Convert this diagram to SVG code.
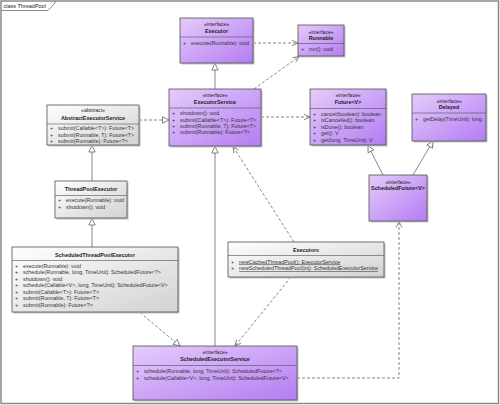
<svg xmlns="http://www.w3.org/2000/svg" width="500" height="405" viewBox="0 0 500 405">
<style>
text{font-family:"Liberation Sans",Arial,sans-serif;fill:#222}
.st{font-size:5.1px;text-anchor:middle}
.nm{font-size:5.4px;font-weight:bold;text-anchor:middle}
.m{font-size:5.35px;fill:#333}
.u{text-decoration:underline}
.ifc{fill:url(#gI);stroke:#505050;stroke-width:0.8}
.cls{fill:url(#gC);stroke:#505050;stroke-width:0.8}
.sh{fill:#c4c4c4}
.sep{stroke:#505050;stroke-width:0.6}
.c{fill:none;stroke:#555;stroke-width:0.7}
.d{stroke-dasharray:3,2}
</style>
<defs>
<linearGradient id="gI" x1="0" y1="0" x2="1" y2="1"><stop offset="0" stop-color="#e4ccfc"/><stop offset="1" stop-color="#b47cf2"/></linearGradient>
<linearGradient id="gC" x1="0" y1="0" x2="1" y2="1"><stop offset="0" stop-color="#ffffff"/><stop offset="1" stop-color="#d2d2d2"/></linearGradient>
<marker id="tri" viewBox="-8 -4 9 8" refX="0" refY="0" markerWidth="9" markerHeight="8" markerUnits="userSpaceOnUse" orient="auto"><path d="M0,0 L-6.5,-3.2 L-6.5,3.2 Z" fill="#fff" stroke="#555" stroke-width="0.7" stroke-dasharray="none"/></marker>
<marker id="opn" viewBox="-8 -4 9 8" refX="0" refY="0" markerWidth="9" markerHeight="8" markerUnits="userSpaceOnUse" orient="auto"><path d="M-6,-2.8 L0,0 L-6,2.8" fill="none" stroke="#555" stroke-width="0.7" stroke-dasharray="none"/></marker>
</defs>
<rect x="0" y="0" width="500" height="405" fill="#fff"/>
<g id="frame">
<rect x="1" y="1" width="497.5" height="402.5" fill="none" stroke="#8a8a8a" stroke-width="1.5"/>
<path d="M1,10.5 H48 L55,3 V1" fill="none" stroke="#8a8a8a" stroke-width="1"/>
<text x="3.5" y="8" style="font-size:5.5px">class ThreadPool</text>
</g>
<g id="connectors">
<line class="c d" x1="253" y1="43" x2="298" y2="43" marker-end="url(#opn)"/>
<line class="c" x1="215" y1="89" x2="215" y2="63.5" marker-end="url(#tri)"/>
<line class="c d" x1="254" y1="89" x2="299" y2="56.5" marker-end="url(#opn)"/>
<line class="c d" x1="261" y1="117" x2="310" y2="117" marker-end="url(#opn)"/>
<line class="c d" x1="139" y1="120" x2="169" y2="120" marker-end="url(#tri)"/>
<line class="c" x1="92" y1="181" x2="92" y2="145.5" marker-end="url(#tri)"/>
<line class="c" x1="92" y1="247" x2="92" y2="218.5" marker-end="url(#tri)"/>
<line class="c d" x1="140" y1="312.5" x2="180" y2="346" marker-end="url(#tri)"/>
<line class="c" x1="215" y1="346" x2="215" y2="146.5" marker-end="url(#tri)"/>
<line class="c d" x1="294" y1="242" x2="233" y2="146.5" marker-end="url(#opn)"/>
<line class="c d" x1="291" y1="277" x2="235" y2="346" marker-end="url(#opn)"/>
<line class="c" x1="383" y1="175" x2="368" y2="145.5" marker-end="url(#tri)"/>
<line class="c" x1="413" y1="175" x2="433" y2="141" marker-end="url(#tri)"/>
<polyline class="c d" points="297,378 399,378 399,221.5" marker-end="url(#opn)"/>
</g>
<g id="Executor">
<rect class="sh" x="181.5" y="19.5" width="73" height="45"/>
<rect class="ifc" x="180" y="18" width="73" height="45"/>
<text class="st" x="216.5" y="26">«interface»</text>
<text class="nm" x="216.5" y="33">Executor</text>
<line class="sep" x1="180" y1="37" x2="253" y2="37"/>
<text class="m" x="183" y="44.7">+</text><text class="m" x="191" y="44.7">execute(Runnable): void</text>
</g>
<g id="Runnable">
<rect class="sh" x="299.5" y="26.5" width="46" height="31"/>
<rect class="ifc" x="298" y="25" width="46" height="31"/>
<text class="st" x="321" y="33.7">«interface»</text>
<text class="nm" x="321" y="40.2">Runnable</text>
<line class="sep" x1="298" y1="43.5" x2="344" y2="43.5"/>
<text class="m" x="301" y="51.2">+</text><text class="m" x="309" y="51.2">run(): void</text>
</g>
<g id="ExecutorService">
<rect class="sh" x="170.5" y="90.5" width="92" height="57"/>
<rect class="ifc" x="169" y="89" width="92" height="57"/>
<text class="st" x="215" y="97.4">«interface»</text>
<text class="nm" x="215" y="104.2">ExecutorService</text>
<line class="sep" x1="169" y1="108" x2="261" y2="108"/>
<text class="m" x="172" y="115.2">+</text><text class="m" x="180" y="115.2">shutdown(): void</text>
<text class="m" x="172" y="121.6">+</text><text class="m" x="180" y="121.6">submit(Callable&lt;T&gt;): Future&lt;T&gt;</text>
<text class="m" x="172" y="128">+</text><text class="m" x="180" y="128">submit(Runnable, T): Future&lt;T&gt;</text>
<text class="m" x="172" y="134.4">+</text><text class="m" x="180" y="134.4">submit(Runnable): Future&lt;?&gt;</text>
</g>
<g id="Future">
<rect class="sh" x="311.5" y="90.5" width="76" height="56"/>
<rect class="ifc" x="310" y="89" width="76" height="56"/>
<text class="st" x="348" y="97.4">«interface»</text>
<text class="nm" x="348" y="103.7">Future&lt;V&gt;</text>
<line class="sep" x1="310" y1="108.5" x2="386" y2="108.5"/>
<text class="m" x="313" y="115.9">+</text><text class="m" x="321" y="115.9">cancel(boolean): boolean</text>
<text class="m" x="313" y="122.4">+</text><text class="m" x="321" y="122.4">isCancelled(): boolean</text>
<text class="m" x="313" y="128.9">+</text><text class="m" x="321" y="128.9">isDone(): boolean</text>
<text class="m" x="313" y="135.4">+</text><text class="m" x="321" y="135.4">get(): V</text>
<text class="m" x="313" y="141.9">+</text><text class="m" x="321" y="141.9">get(long, TimeUnit): V</text>
</g>
<g id="Delayed">
<rect class="sh" x="413.5" y="95.5" width="74" height="47"/>
<rect class="ifc" x="412" y="94" width="74" height="47"/>
<text class="st" x="449" y="102.7">«interface»</text>
<text class="nm" x="449" y="109.2">Delayed</text>
<line class="sep" x1="412" y1="113" x2="486" y2="113"/>
<text class="m" x="415" y="121.2">+</text><text class="m" x="423" y="121.2">getDelay(TimeUnit): long</text>
</g>
<g id="AbstractExecutorService">
<rect class="sh" x="48.5" y="106.5" width="92" height="40"/>
<rect class="cls" x="47" y="105" width="92" height="40"/>
<text class="st" x="93" y="112.4">«abstract»</text>
<text class="nm" x="93" y="120.2">AbstractExecutorService</text>
<line class="sep" x1="47" y1="124" x2="139" y2="124"/>
<text class="m" x="50" y="130.4">+</text><text class="m" x="58" y="130.4">submit(Callable&lt;T&gt;): Future&lt;T&gt;</text>
<text class="m" x="50" y="136.5">+</text><text class="m" x="58" y="136.5">submit(Runnable, T): Future&lt;T&gt;</text>
<text class="m" x="50" y="142.6">+</text><text class="m" x="58" y="142.6">submit(Runnable): Future&lt;?&gt;</text>
</g>
<g id="ThreadPoolExecutor">
<rect class="sh" x="56.5" y="182.5" width="72" height="37"/>
<rect class="cls" x="55" y="181" width="72" height="37"/>
<text class="nm" x="91" y="191">ThreadPoolExecutor</text>
<line class="sep" x1="55" y1="195.5" x2="127" y2="195.5"/>
<text class="m" x="58" y="202.4">+</text><text class="m" x="66" y="202.4">execute(Runnable): void</text>
<text class="m" x="58" y="208.9">+</text><text class="m" x="66" y="208.9">shutdown(): void</text>
</g>
<g id="ScheduledThreadPoolExecutor">
<rect class="sh" x="13.5" y="248.5" width="166" height="65"/>
<rect class="cls" x="12" y="247" width="166" height="65"/>
<text class="nm" x="95" y="256.7">ScheduledThreadPoolExecutor</text>
<line class="sep" x1="12" y1="260.5" x2="178" y2="260.5"/>
<text class="m" x="15" y="267.9">+</text><text class="m" x="23" y="267.9">execute(Runnable): void</text>
<text class="m" x="15" y="274.4">+</text><text class="m" x="23" y="274.4">schedule(Runnable, long, TimeUnit): ScheduledFuture&lt;?&gt;</text>
<text class="m" x="15" y="280.9">+</text><text class="m" x="23" y="280.9">shutdown(): void</text>
<text class="m" x="15" y="287.4">+</text><text class="m" x="23" y="287.4">schedule(Callable&lt;V&gt;, long, TimeUnit): ScheduledFuture&lt;V&gt;</text>
<text class="m" x="15" y="293.9">+</text><text class="m" x="23" y="293.9">submit(Callable&lt;T&gt;): Future&lt;T&gt;</text>
<text class="m" x="15" y="300.4">+</text><text class="m" x="23" y="300.4">submit(Runnable, T): Future&lt;T&gt;</text>
<text class="m" x="15" y="306.9">+</text><text class="m" x="23" y="306.9">submit(Runnable): Future&lt;?&gt;</text>
</g>
<g id="Executors">
<rect class="sh" x="229.5" y="243.5" width="156" height="35"/>
<rect class="cls" x="228" y="242" width="156" height="35"/>
<text class="nm" x="306" y="252">Executors</text>
<line class="sep" x1="228" y1="255.5" x2="384" y2="255.5"/>
<text class="m" x="231" y="263.5">+</text><text class="m u" x="239" y="263.5">newCachedThreadPool(): ExecutorService</text>
<text class="m" x="231" y="270">+</text><text class="m u" x="239" y="270">newScheduledThreadPool(int): ScheduledExecutorService</text>
</g>
<g id="ScheduledExecutorService">
<rect class="sh" x="134.5" y="347.5" width="164" height="54"/>
<rect class="ifc" x="133" y="346" width="164" height="54"/>
<text class="st" x="215" y="353.8">«interface»</text>
<text class="nm" x="215" y="360.5">ScheduledExecutorService</text>
<line class="sep" x1="133" y1="365.5" x2="297" y2="365.5"/>
<text class="m" x="136" y="373.4">+</text><text class="m" x="144" y="373.4">schedule(Runnable, long, TimeUnit): ScheduledFuture&lt;?&gt;</text>
<text class="m" x="136" y="379.9">+</text><text class="m" x="144" y="379.9">schedule(Callable&lt;V&gt;, long, TimeUnit): ScheduledFuture&lt;V&gt;</text>
</g>
<g id="ScheduledFuture">
<rect class="sh" x="370.5" y="176.5" width="58" height="46"/>
<rect class="ifc" x="369" y="175" width="58" height="46"/>
<text class="st" x="398" y="183.5">«interface»</text>
<text class="nm" x="398" y="190">ScheduledFuture&lt;V&gt;</text>
</g>
</svg>
